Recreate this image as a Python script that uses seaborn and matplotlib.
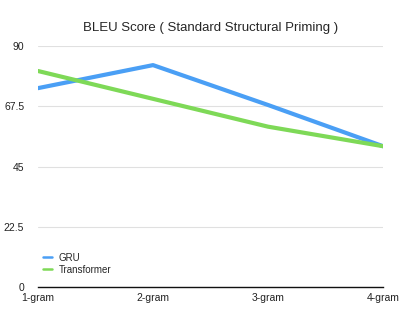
import matplotlib
matplotlib.use('Agg')
import matplotlib.pyplot as plt
import pandas as pd
import seaborn as sns

# DATA
grams = ['1-gram', '2-gram', '3-gram', '4-gram']
gru = [74.3, 82.9, 68.0, 52.6]
transformer = [80.7, 70.3, 59.9, 52.6]
y_ticks = [0, 22.5, 45, 67.5, 90]
y_tick_labels = ['0', '22.5', '45', '67.5', '90']

data = pd.DataFrame({
    'gram': grams * 2,
    'score': gru + transformer,
    'model': ['GRU'] * 4 + ['Transformer'] * 4,
})

sns.set_style('white')
plt.rcParams['font.family'] = ['Liberation Sans', 'DejaVu Sans']

fig = plt.figure(figsize=(4.15, 3.18), dpi=100)
ax = fig.add_axes([0.0916, 0.0975, 0.8314, 0.7575])

sns.lineplot(
    data=data,
    x='gram',
    y='score',
    hue='model',
    palette={'GRU': '#4A9FF5', 'Transformer': '#7ED957'},
    linewidth=3,
    ax=ax
)

ax.set_ylim(0, 90)
ax.set_xlim(0, 3)
ax.set_yticks(y_ticks)
ax.set_yticklabels(y_tick_labels)
ax.set_xticks(range(len(grams)))
ax.set_xticklabels(grams)
ax.tick_params(axis='both', length=0, labelsize=7.5, colors='#222222')
ax.tick_params(axis='y', pad=10)
ax.tick_params(axis='x', pad=4)
ax.set_xlabel('')
ax.set_ylabel('')
ax.grid(axis='y', color='#e0e0e0', linewidth=0.8)
ax.set_axisbelow(True)
for side in ['top', 'right', 'left']:
    ax.spines[side].set_visible(False)
ax.spines['bottom'].set_color('#111111')
ax.spines['bottom'].set_linewidth(1)

ax.set_title('BLEU Score ( Standard Structural Priming )', fontsize=9.5, pad=11)

leg = ax.legend(loc='lower left', bbox_to_anchor=(-0.01, 0.015), frameon=False,
                fontsize=7, handlelength=0.9, handletextpad=0.7, labelspacing=0.2)
for line in leg.get_lines():
    line.set_linewidth(1.8)

plt.savefig('out.png', dpi=100)
